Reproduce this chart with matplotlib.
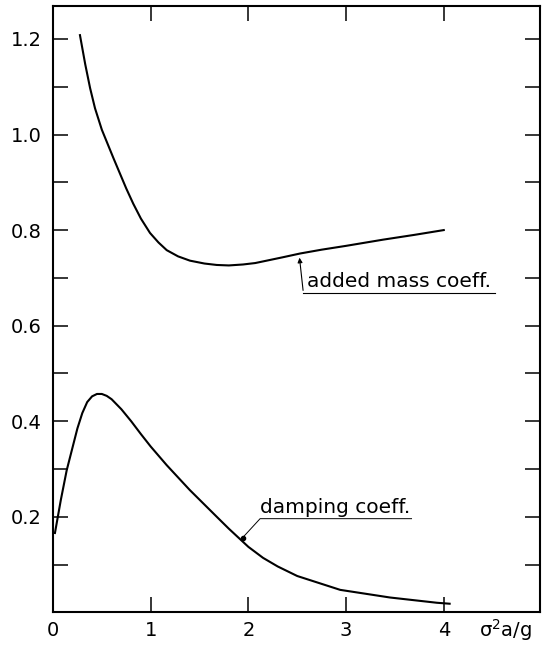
import numpy as np
import matplotlib.pyplot as plt

# added mass coefficient vs sigma^2 a/g
am_x = [0.276, 0.33, 0.38, 0.43, 0.5, 0.55, 0.62, 0.686, 0.75, 0.822, 0.9, 0.993, 1.08, 1.164, 1.28, 1.402,
        1.55, 1.676, 1.8, 1.945, 2.07, 2.187, 2.35, 2.53, 2.75, 3.0, 3.38, 3.7, 4.0]
am_y = [1.208, 1.147, 1.097, 1.055, 1.01, 0.985, 0.95, 0.918, 0.887, 0.855, 0.824, 0.794, 0.774, 0.758, 0.745, 0.736,
        0.73, 0.727, 0.726, 0.728, 0.731, 0.736, 0.743, 0.751, 0.759, 0.767, 0.78, 0.79, 0.80]

# damping coefficient
d_x = [0.02, 0.08, 0.14, 0.2, 0.25, 0.3, 0.35, 0.4, 0.45, 0.5, 0.55, 0.6, 0.7, 0.8, 0.9, 1.0, 1.164, 1.4,
       1.676, 1.8, 2.0, 2.15, 2.3, 2.5, 2.94, 3.45, 3.93, 4.06]
d_y = [0.166, 0.235, 0.297, 0.345, 0.385, 0.417, 0.44, 0.452, 0.457, 0.457, 0.453, 0.446, 0.425, 0.40, 0.373, 0.347,
       0.308, 0.256, 0.20, 0.175, 0.137, 0.114, 0.096, 0.076, 0.047, 0.031, 0.02, 0.018]

x_ticks = [0, 1, 2, 3, 4]
y_ticks = [0.2, 0.4, 0.6, 0.8, 1.0, 1.2]
y_minor = [0.1, 0.3, 0.5, 0.7, 0.9, 1.1]

plt.rcParams['font.family'] = ['DejaVu Sans']
fig = plt.figure(figsize=(5.48, 6.47), dpi=100)
ax = fig.add_axes([0.0967, 0.0536, 0.8887, 0.9364])

ax.plot(am_x, am_y, color='black', lw=1.5, solid_joinstyle='round')
ax.plot(d_x, d_y, color='black', lw=1.5, solid_joinstyle='round')

ax.set_xlim(0, 4.985)
ax.set_ylim(0, 1.268)
ax.set_xticks(x_ticks)
ax.set_xticklabels([str(v) for v in x_ticks])
ax.set_yticks(y_ticks)
ax.set_yticklabels(['%.1f' % v for v in y_ticks])
ax.set_yticks(y_minor, minor=True)
ax.tick_params(axis='both', which='both', direction='in', length=11, width=1.1,
               top=True, right=True, labelsize=14, colors='black')
ax.tick_params(axis='x', pad=6)
ax.tick_params(axis='y', pad=8)
for s in ax.spines.values():
    s.set_linewidth(1.5)

# x label sits at the right end, level with the tick labels
ax.text(4.63, -0.052, 'σ$^2$a/g', fontsize=14, ha='center', va='baseline')

# added mass label with leader
ax.annotate('', xy=(2.52, 0.748), xytext=(2.563, 0.668),
            arrowprops=dict(arrowstyle='-|>', lw=0.8, color='black', mutation_scale=7))
ax.plot([2.563, 4.52], [0.668, 0.668], color='black', lw=0.8)
ax.text(2.6, 0.681, 'added mass coeff.', fontsize=14.5, ha='left', va='baseline')

# damping label with leader
ax.plot([1.94, 2.12, 3.67], [0.156, 0.196, 0.196], color='black', lw=0.7)
ax.plot([1.94], [0.156], 'o', color='black', ms=3)
ax.text(2.12, 0.208, 'damping coeff.', fontsize=14.5, ha='left', va='baseline')

fig.savefig('out.png', dpi=100)
